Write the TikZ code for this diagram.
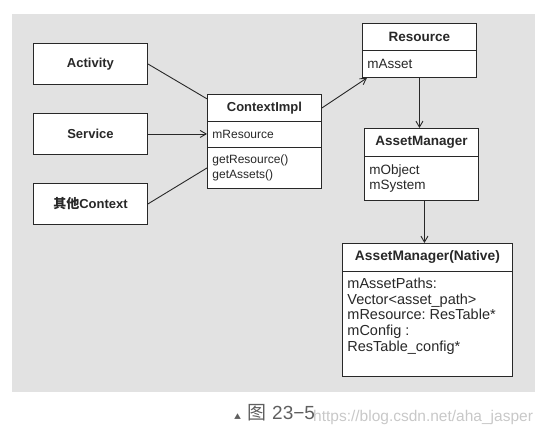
\documentclass[tikz,border=0pt]{standalone}
\usepackage{fontspec}
\usepackage{tikz}
\usetikzlibrary{arrows.meta}
\setmainfont{Liberation Sans}
\newfontfamily\cjk{Noto Sans CJK SC}
\definecolor{bggray}{RGB}{226,226,226}
\definecolor{ink}{RGB}{40,40,40}
\definecolor{capgray}{RGB}{95,95,95}
\definecolor{wmgray}{RGB}{200,200,200}
\frenchspacing

\begin{document}
\begin{tikzpicture}[x=1pt, y=-1pt,
    box/.style={draw=ink, fill=white, line width=0.9pt, anchor=north west, text=ink, inner sep=0pt},
    head/.style={box, font=\bfseries\fontsize{13}{15}\selectfont, minimum width=114pt},
    body/.style={box, font=\fontsize{12}{15.7}\selectfont, align=left, text width=104pt, inner xsep=5pt},
    big/.style={font=\fontsize{13.5}{15.7}\selectfont},
    link/.style={draw=ink, line width=0.9pt},
    arr/.style={link, -{Straight Barb[length=6pt, width=7pt]}}]
    \useasboundingbox (0,0) rectangle (547,437);
    \fill[bggray] (12,14) rectangle (535,392);

    % classes on the left
    \node[head, minimum height=41pt] (act) at (33,43) {Activity};
    \node[head, minimum height=41pt] (svc) at (33,113) {Service};
    \node[head, minimum height=41pt] (oth) at (33,183) {{\cjk 其他}Context};

    % ContextImpl
    \node[head, minimum height=27pt] (ctxt) at (207,94) {ContextImpl};
    \node[body, minimum height=26pt] (ctxa) at (207,121) {mResource};
    \node[body, minimum height=41pt] (ctxm) at (207,147) {getResource()\\getAssets()};

    % Resource
    \node[head, minimum height=27pt, font=\bfseries\fontsize{13.5}{15}\selectfont] (rest) at (362,23) {Resource};
    \node[body, big, minimum height=27pt] (resa) at (362,50) {mAsset};

    % AssetManager
    \node[head, minimum height=28pt, font=\bfseries\fontsize{13.5}{15}\selectfont] (amt) at (364,128) {AssetManager};
    \node[body, big, minimum height=44pt] (amb) at (364,156) {mObject\\mSystem};

    % AssetManager(Native)
    \node[head, minimum width=170pt, minimum height=28pt, font=\bfseries\fontsize{13.8}{15}\selectfont] (natt) at (342,243) {AssetManager(Native)};
    \node[box, font=\fontsize{14.5}{15.7}\selectfont, inner xsep=5pt, inner ysep=6.5pt] (natb) at (342,271)
        {\parbox[t][92pt][t]{160pt}{\raggedright\baselineskip=15.7pt
        mAssetPaths:\\Vector<asset\_path>\\mResource: ResTable*\\mConfig :\\ResTable\_config*}};

    % edges
    \draw[link] (act.east) -- (ctxt.171);
    \draw[arr] (svc.east) -- (svc.east -| ctxa.west);
    \draw[link] (oth.east) -- (ctxm.west);
    \draw[arr] (ctxt.east) -- ([xshift=5pt]resa.south west);
    \draw[arr] (resa.south) -- (resa.south |- amt.north);
    \draw[arr] ([xshift=3pt]amb.south) -- ([xshift=3pt]amb.south |- natt.north);

    % caption
    \node[anchor=west, inner sep=0pt, text=capgray] (cap) at (234,413)
        {{\cjk\fontsize{7}{7}\selectfont ▲}\hspace{6pt}{\cjk\fontsize{19}{19}\selectfont 图}\hspace{6pt}{\fontsize{19}{19}\selectfont 23−5}};
    \node[anchor=west, inner sep=0pt, text=wmgray, font=\fontsize{15.5}{16}\selectfont] (wm) at (313,417) {https://blog.csdn.net/aha\_jasper};
\end{tikzpicture}
\end{document}
